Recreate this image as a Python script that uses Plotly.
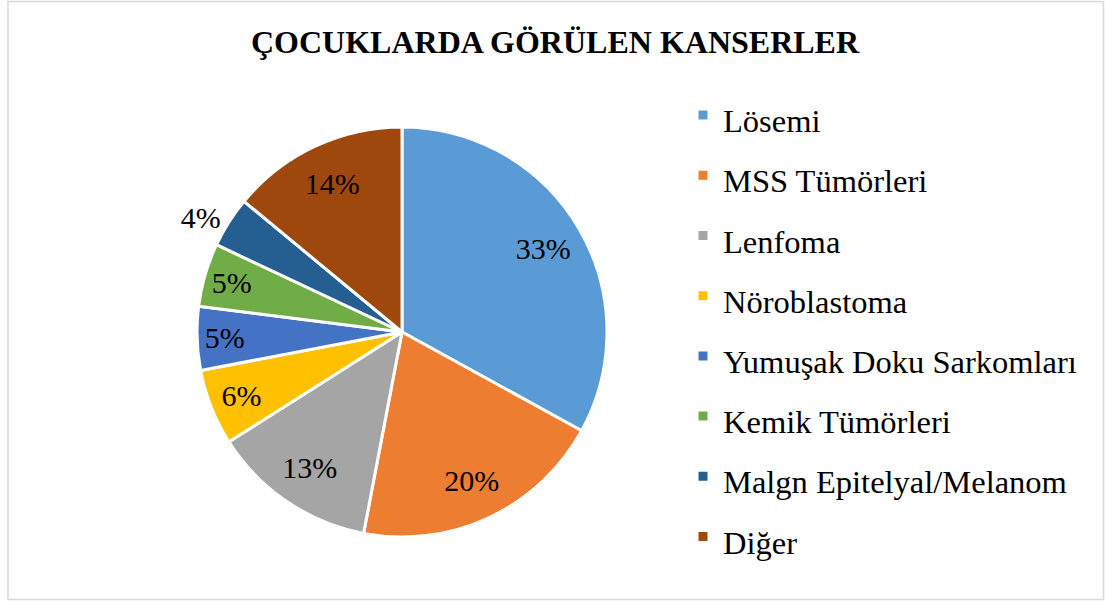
import plotly.graph_objects as go

categories = ["Lösemi", "MSS Tümörleri", "Lenfoma", "Nöroblastoma",
              "Yumuşak Doku Sarkomları", "Kemik Tümörleri",
              "Malgn Epitelyal/Melanom", "Diğer"]
values = [33, 20, 13, 6, 5, 5, 4, 14]
colors = ["#5B9BD5", "#ED7D31", "#A5A5A5", "#FFC000",
          "#4472C4", "#70AD47", "#255E91", "#9E480E"]
text_positions = ["inside", "inside", "inside", "inside",
                  "inside", "inside", "outside", "inside"]

W, H = 1105, 601
FONT = "Liberation Serif, Times New Roman, serif"

legend_labels = [f"<span style='font-size:32.5px'>{c}</span>" for c in categories]
domain = dict(x=[197 / W, 607 / W], y=[(H - 537) / H, (H - 127) / H])

# main pie: slices + legend
fig = go.Figure(go.Pie(
    labels=legend_labels,
    values=values,
    sort=False,
    direction="clockwise",
    rotation=0,
    marker=dict(colors=colors, line=dict(color="white", width=3)),
    textinfo="none",
    domain=domain,
    hovertemplate="%{label}: %{value}%<extra></extra>",
))

# transparent ring carrying the percent labels (places them at ~0.8 radius)
fig.add_trace(go.Pie(
    labels=categories,
    values=values,
    sort=False,
    direction="clockwise",
    rotation=0,
    hole=0.6,
    marker=dict(colors=["rgba(0,0,0,0)"] * len(values),
                line=dict(color="rgba(0,0,0,0)", width=0)),
    textinfo="percent",
    textposition=text_positions,
    insidetextorientation="horizontal",
    textfont=dict(family=FONT, size=30, color="black"),
    insidetextfont=dict(family=FONT, size=30, color="black"),
    outsidetextfont=dict(family=FONT, size=30, color="black"),
    domain=domain,
    showlegend=False,
    hoverinfo="skip",
))

fig.update_layout(
    width=W, height=H,
    margin=dict(l=0, r=0, t=0, b=0),
    paper_bgcolor="white",
    font=dict(family=FONT, color="black"),
    title=dict(text="<b>ÇOCUKLARDA GÖRÜLEN KANSERLER</b>",
               font=dict(family=FONT, size=32, color="black"),
               x=555 / W, xanchor="center", y=1 - 42 / H, yanchor="middle"),
    showlegend=True,
    legend=dict(x=683 / W, xanchor="left", y=1 - 80 / H, yanchor="top",
                font=dict(family=FONT, size=44, color="black"),
                bgcolor="rgba(0,0,0,0)"),
    shapes=[dict(type="rect", xref="paper", yref="paper",
                 x0=8 / W, x1=1103.5 / W, y0=1 - 599.5 / H, y1=1 - 1.5 / H,
                 line=dict(color="#D9D9D9", width=1.5))],
)

fig.write_html("out.html")
